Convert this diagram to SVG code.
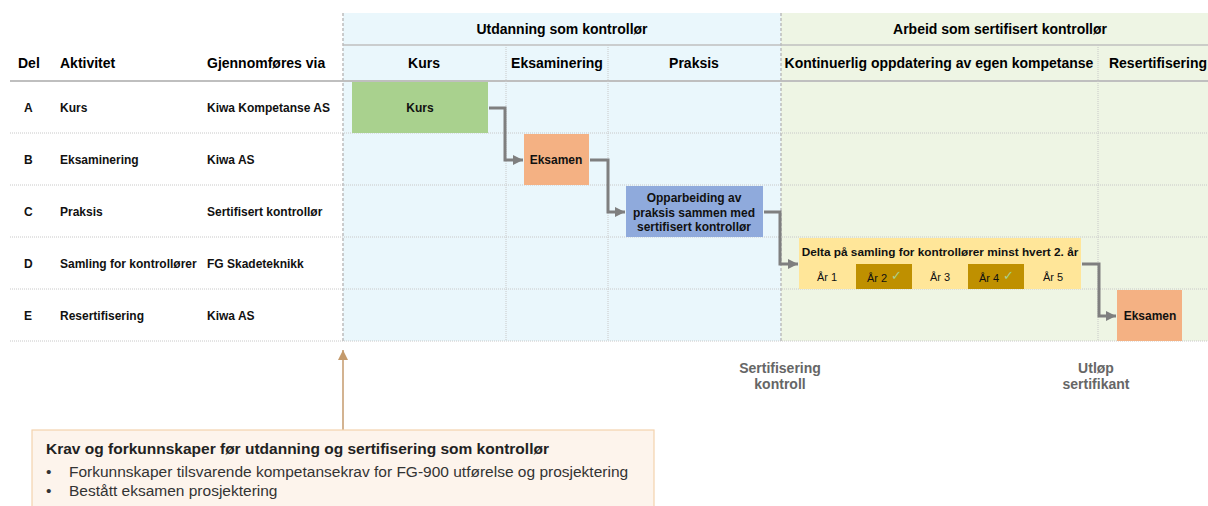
<svg xmlns="http://www.w3.org/2000/svg" width="1208" height="506" viewBox="0 0 1208 506">
<defs>
<style>
text{font-family:"Liberation Sans",Arial,sans-serif;}
.h{font-size:14px;font-weight:bold;fill:#000;}
.r{font-size:12px;font-weight:bold;fill:#111;}
.n{font-size:12px;font-weight:bold;fill:#111;text-anchor:middle;}
.y{font-size:11px;fill:#111;text-anchor:middle;}
.ck{font-family:"DejaVu Sans",sans-serif;font-size:13px;fill:#A9D18E;}
.m{font-size:14px;font-weight:bold;fill:#666;text-anchor:middle;}
.kt{font-size:15.5px;font-weight:bold;fill:#222;}
.kb{font-size:15.5px;fill:#333;}
.dot{stroke:#C8C8C8;stroke-width:1;stroke-dasharray:1 1;fill:none;}
.vd{stroke:#BDBDBD;stroke-width:1.5;stroke-dasharray:3 2;fill:none;}
.conn{stroke:#7F7F7F;stroke-width:3;fill:none;marker-end:url(#ah);}
</style>
<marker id="ah" markerUnits="userSpaceOnUse" markerWidth="12" markerHeight="12" refX="10" refY="6" orient="auto">
<path d="M0,1 L10,6 L0,11 Z" fill="#7F7F7F"/>
</marker>
<marker id="ah2" markerUnits="userSpaceOnUse" markerWidth="12" markerHeight="12" refX="10" refY="6" orient="auto">
<path d="M0,1 L10,6 L0,11 Z" fill="#C49A6C"/>
</marker>
</defs>
<rect width="1208" height="506" fill="#fff"/>
<g id="backgrounds">
<rect x="343" y="13" width="438" height="328" fill="#EAF7FC"/>
<rect x="781" y="13" width="427" height="328" fill="#EEF5E4"/>
</g>
<g id="grid">
<line x1="343" y1="45" x2="1208" y2="45" stroke="#BFBFBF" stroke-width="1.5"/>
<line x1="10" y1="81" x2="1208" y2="81" stroke="#BFBFBF" stroke-width="2"/>
<line class="dot" x1="10" y1="133" x2="1208" y2="133"/>
<line class="dot" x1="10" y1="185" x2="1208" y2="185"/>
<line class="dot" x1="10" y1="237" x2="1208" y2="237"/>
<line class="dot" x1="10" y1="289" x2="1208" y2="289"/>
<line class="dot" x1="10" y1="341" x2="1208" y2="341"/>
<line class="dot" x1="506" y1="45" x2="506" y2="341"/>
<line class="dot" x1="608" y1="45" x2="608" y2="341"/>
<line class="dot" x1="1098" y1="45" x2="1098" y2="341"/>
<line class="vd" x1="343" y1="13" x2="343" y2="341"/>
<line class="vd" x1="781" y1="13" x2="781" y2="341"/>
</g>
<g id="headers">
<text class="h" x="562" y="34" text-anchor="middle">Utdanning som kontrollør</text>
<text class="h" x="1000" y="34" text-anchor="middle">Arbeid som sertifisert kontrollør</text>
<text class="h" x="18" y="68">Del</text>
<text class="h" x="60" y="68">Aktivitet</text>
<text class="h" x="207" y="68">Gjennomføres via</text>
<text class="h" x="424" y="68" text-anchor="middle">Kurs</text>
<text class="h" x="557" y="68" text-anchor="middle">Eksaminering</text>
<text class="h" x="694" y="68" text-anchor="middle">Praksis</text>
<text class="h" x="939" y="68" text-anchor="middle">Kontinuerlig oppdatering av egen kompetanse</text>
<text class="h" x="1158" y="68" text-anchor="middle">Resertifisering</text>
</g>
<g id="rows">
<text class="r" x="24" y="112">A</text><text class="r" x="60" y="112">Kurs</text><text class="r" x="207" y="112">Kiwa Kompetanse AS</text>
<text class="r" x="24" y="164">B</text><text class="r" x="60" y="164">Eksaminering</text><text class="r" x="207" y="164">Kiwa AS</text>
<text class="r" x="24" y="216">C</text><text class="r" x="60" y="216">Praksis</text><text class="r" x="207" y="216">Sertifisert kontrollør</text>
<text class="r" x="24" y="268">D</text><text class="r" x="60" y="268">Samling for kontrollører</text><text class="r" x="207" y="268">FG Skadeteknikk</text>
<text class="r" x="24" y="320">E</text><text class="r" x="60" y="320">Resertifisering</text><text class="r" x="207" y="320">Kiwa AS</text>
</g>
<g id="connectors">
<path class="conn" d="M489,108 H505 V160 H523"/>
<path class="conn" d="M590,160 H608 V212 H625"/>
<path class="conn" d="M764,212 H780 V264 H798"/>
<path class="conn" d="M1082,264 H1099 V316 H1116"/>
<path d="M343,430 V350" stroke="#C49A6C" stroke-width="1.5" fill="none" marker-end="url(#ah2)"/>
</g>
<g id="node-kurs">
<rect x="352" y="82" width="136" height="51" fill="#A9D18E"/>
<text class="n" x="420" y="112">Kurs</text>
</g>
<g id="node-eksamen-b">
<rect x="524" y="134" width="65" height="51" fill="#F4B183"/>
<text class="n" x="556" y="164">Eksamen</text>
</g>
<g id="node-praksis">
<rect x="626" y="186" width="137" height="51" fill="#8FAADC"/>
<text class="n" x="694" y="202">Opparbeiding av</text>
<text class="n" x="694" y="217">praksis sammen med</text>
<text class="n" x="694" y="231">sertifisert kontrollør</text>
</g>
<g id="node-samling">
<rect x="799" y="238" width="282" height="51" fill="#FFE699"/>
<text class="n" x="940" y="256" style="font-size:11.8px">Delta på samling for kontrollører minst hvert 2. år</text>
<rect x="856" y="264" width="56" height="25" fill="#BF9000"/>
<rect x="968" y="264" width="56" height="25" fill="#BF9000"/>
<text class="y" x="827" y="281">År 1</text>
<text class="y" x="877" y="282">År 2</text><text class="ck" x="891" y="280">✓</text>
<text class="y" x="940" y="281">År 3</text>
<text class="y" x="989" y="282">År 4</text><text class="ck" x="1003" y="280">✓</text>
<text class="y" x="1053" y="281">År 5</text>
</g>
<g id="node-eksamen-e">
<rect x="1117" y="290" width="65" height="51" fill="#F4B183"/>
<text class="n" x="1150" y="320">Eksamen</text>
</g>
<g id="milestones">
<text class="m" x="780" y="373">Sertifisering</text>
<text class="m" x="780" y="389">kontroll</text>
<text class="m" x="1096" y="373">Utløp</text>
<text class="m" x="1096" y="389">sertifikant</text>
</g>
<g id="node-krav">
<rect x="32" y="430" width="622" height="84" fill="#FDF4EC" stroke="#F4D2AE" stroke-width="1.2"/>
<text class="kt" x="46" y="454">Krav og forkunnskaper før utdanning og sertifisering som kontrollør</text>
<text class="kb" x="46" y="477">•</text>
<text class="kb" x="69" y="477">Forkunnskaper tilsvarende kompetansekrav for FG-900 utførelse og prosjektering</text>
<text class="kb" x="46" y="496">•</text>
<text class="kb" x="69" y="496">Bestått eksamen prosjektering</text>
</g>
</svg>
